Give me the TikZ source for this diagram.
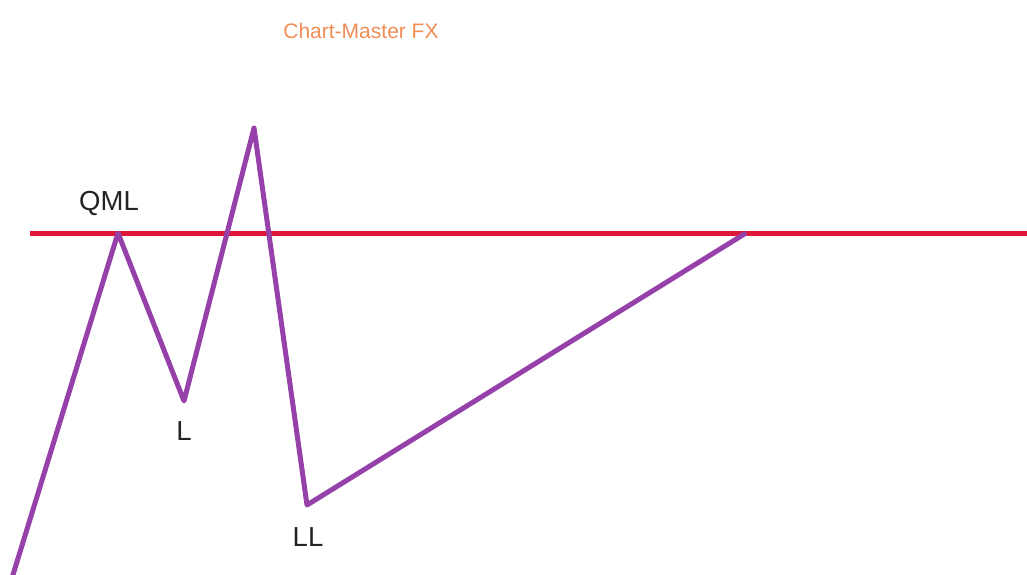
\documentclass[tikz,border=0pt]{standalone}
\usepackage{fontspec}
\setmainfont{Liberation Sans}
\usepackage{xcolor}
\usepackage{tikz}
\usetikzlibrary{positioning}
\definecolor{cmorange}{RGB}{240,140,85}
\definecolor{cmpurple}{RGB}{150,65,170}
\definecolor{cmred}{RGB}{222,22,55}
\definecolor{cmtext}{RGB}{35,35,35}

\begin{document}
\begin{tikzpicture}[
    x=1pt, y=-1pt,
    level/.style={line width=5pt, cmred},
    price/.style={line width=5pt, cmpurple, line join=round},
    lbl/.style={text=cmtext, font=\fontsize{27.5}{29}\selectfont, inner sep=0pt}
]
\useasboundingbox (0,0) rectangle (1027,575);

% Title
\node[text=cmorange, font=\fontsize{21}{23}\selectfont, inner sep=0pt] (title) at (361, 31) {Chart-Master FX};

% QML level
\coordinate (lvlstart) at (30, 233);
\coordinate (lvlend) at (1027, 233);
\draw[level] (lvlstart) -- (lvlend);

% Swing points
\coordinate (start) at (12, 578);
\coordinate (qml) at (118, 233);
\coordinate (low) at (184, 401);
\coordinate (high) at (254, 128);
\coordinate (lowlow) at (307, 505);
\coordinate (retest) at (746, 233);

\draw[price] (start) -- (qml) -- (low) -- (high) -- (lowlow) -- (retest);

% Labels
\node[lbl] (qmllbl) at (109, 203) {QML};
\node[lbl] (llbl) at (184, 431) {L};
\node[lbl] (lllbl) at (308, 537) {LL};

\end{tikzpicture}
\end{document}
